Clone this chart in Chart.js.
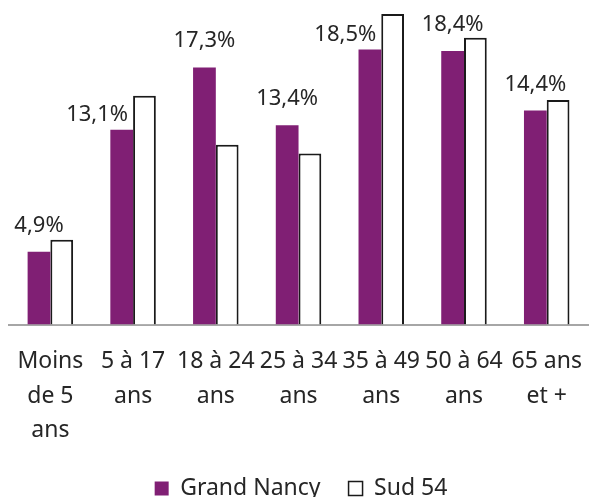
<!DOCTYPE html>
<html>
<head>
<meta charset="utf-8">
<script src="https://cdn.jsdelivr.net/npm/chart.js@4/dist/chart.umd.min.js"></script>
<style>
  html, body { margin: 0; padding: 0; background: #fff; overflow: hidden; }
  #wrap { position: absolute; left: 0; top: 0; width: 594px; height: 497px; }
</style>
</head>
<body>
<div id="wrap"><canvas id="my-chart"></canvas></div>
<script>
// age groups
const categories = [
    ['Moins', 'de 5', 'ans'],
    ['5 à 17', 'ans'],
    ['18 à 24', 'ans'],
    ['25 à 34', 'ans'],
    ['35 à 49', 'ans'],
    ['50 à 64', 'ans'],
    ['65 ans', 'et +']
]
const grandNancy = [4.9, 13.1, 17.3, 13.4, 18.5, 18.4, 14.4]
const sud54 = [5.7, 15.4, 12.1, 11.5, 20.9, 19.3, 15.1]

const seriesNames = ['Grand Nancy', 'Sud 54']

const purple = '#801f74'
const textColor = '#262626'
const fontFamily = '"Noto Sans", sans-serif'

const ctx = document.querySelector('#my-chart').getContext('2d')

// value labels above Grand Nancy bars, moved left when the Sud 54 bar is in the way
const valueLabels = {
    id: 'valueLabels',
    afterDatasetsDraw(chart) {
        const c = chart.ctx
        const meta0 = chart.getDatasetMeta(0)
        const meta1 = chart.getDatasetMeta(1)
        c.save()
        c.font = '22px ' + fontFamily
        c.fillStyle = textColor
        c.textAlign = 'center'
        c.textBaseline = 'alphabetic'
        meta0.data.forEach((bar, i) => {
            const other = meta1.data[i]
            const txt = grandNancy[i].toFixed(1).replace('.', ',') + '%'
            const w = c.measureText(txt).width
            let x = bar.x
            let y = bar.y - 20
            if (other.y < y + 2 && x + w / 2 > other.x - other.width / 2) {
                x = other.x - other.width / 2 - 5 - w / 2
                y = bar.y - 9
            }
            c.fillText(txt, x, y)
        })
        c.restore()
    }
}

const config = {
    type: 'bar',
    data: {
        labels: categories,
        datasets: [{
            label: seriesNames[0],
            data: grandNancy,
            backgroundColor: purple,
            borderColor: purple,
            borderWidth: 0,
            categoryPercentage: 0.55,
            barPercentage: 1
        }, {
            label: seriesNames[1],
            data: sud54,
            backgroundColor: '#ffffff',
            borderColor: '#1a1a1a',
            borderWidth: 2,
            categoryPercentage: 0.55,
            barPercentage: 1
        }]
    },
    options: {
        responsive: true,
        maintainAspectRatio: false,
        animation: false,
        layout: { padding: { top: 5, left: 9, right: 1, bottom: -13 } },
        scales: {
            x: {
                grid: { display: false },
                border: { display: true, color: '#a6a6a6', width: 2 },
                ticks: {
                    color: textColor,
                    font: { family: fontFamily, size: 23, lineHeight: 1.5 },
                    maxRotation: 0,
                    autoSkip: false,
                    padding: 12
                },
                afterFit(scale) {
                    scale.height -= 11
                }
            },
            y: {
                display: false,
                min: 0,
                max: 21.5
            }
        },
        plugins: {
            legend: {
                position: 'bottom',
                labels: {
                    color: textColor,
                    font: { family: fontFamily, size: 23 },
                    boxWidth: 14,
                    boxHeight: 14,
                    padding: 28,
                    generateLabels(chart) {
                        return chart.data.datasets.map((ds, i) => ({
                            text: ds.label,
                            fillStyle: ds.backgroundColor,
                            strokeStyle: i === 0 ? purple : '#1a1a1a',
                            lineWidth: i === 0 ? 0 : 1.5,
                            fontColor: textColor,
                            datasetIndex: i
                        }))
                    }
                }
            },
            tooltip: { enabled: false }
        }
    },
    plugins: [valueLabels]
}

const myChart = new Chart(ctx, config)
</script>
</body>
</html>
